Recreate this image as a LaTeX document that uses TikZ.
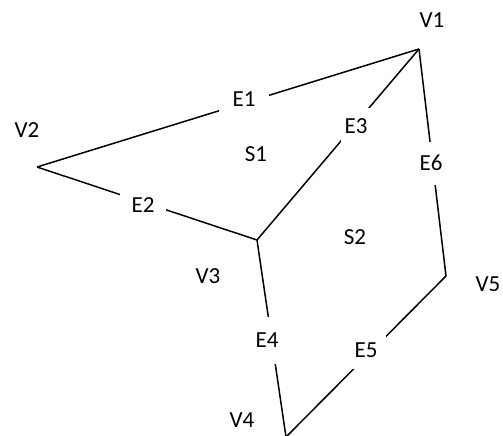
\documentclass[tikz,border=0pt]{standalone}
\usepackage{fontspec}
\setmainfont{Carlito}
\begin{document}
\begin{tikzpicture}[x=1pt,y=-1pt,
  edge/.style={line width=1.5pt},
  vlabel/.style={inner sep=0pt,font=\fontsize{23}{28}\selectfont},
  elabel/.style={fill=white,inner sep=0pt,font=\fontsize{23}{28}\selectfont}]
\useasboundingbox (0,0) rectangle (503,436);
% vertices
\coordinate (V1) at (419,49);
\coordinate (V2) at (37,167);
\coordinate (V3) at (257,240);
\coordinate (V4) at (286,437);
\coordinate (V5) at (446,276);
% edges
\draw[edge] (V2) -- (V1);
\draw[edge] (V2) -- (V3);
\draw[edge] (V1) -- (V3);
\draw[edge] (V1) -- (V5);
\draw[edge] (V3) -- (V4);
\draw[edge] (V4) -- (V5);
% edge labels
\node[elabel,minimum width=50pt,minimum height=28pt] (E1) at (244,99) {E1};
\node[elabel,minimum width=46pt,minimum height=24pt] (E2) at (143,205) {E2};
\node[elabel,minimum width=30pt,minimum height=36pt] (E3) at (356,126) {E3};
\node[elabel,minimum width=30pt,minimum height=43pt] (E6) at (431,163) {E6};
\node[elabel,minimum width=30pt,minimum height=47pt] (E4) at (267,340) {E4};
\node[elabel,minimum width=40pt,minimum height=38pt] (E5) at (366,350) {E5};
% vertex and face labels
\node[vlabel] (L1) at (432,20) {V1};
\node[vlabel] (L2) at (27,130) {V2};
\node[vlabel] (L3) at (208,276) {V3};
\node[vlabel] (L4) at (242,420) {V4};
\node[vlabel] (L5) at (488,284) {V5};
\node[vlabel] (S1) at (256,154) {S1};
\node[vlabel] (S2) at (355,237) {S2};
\end{tikzpicture}
\end{document}
